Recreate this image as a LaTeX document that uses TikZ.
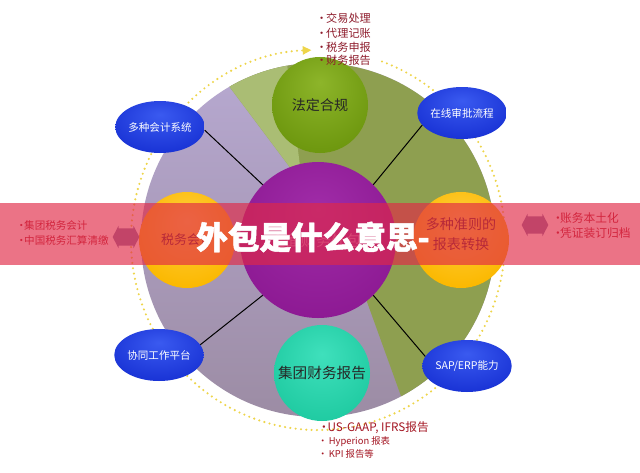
\documentclass[tikz,border=0pt]{standalone}
\usepackage{fontspec}
\setmainfont{Noto Sans CJK SC}
\usetikzlibrary{shapes.geometric,shapes.arrows,arrows.meta}
\definecolor{lavtop}{HTML}{B7A9D1}
\definecolor{lavbot}{HTML}{9C8CA4}
\definecolor{olivegr}{HTML}{8E9F50}
\definecolor{lightgr}{HTML}{AABD74}
\definecolor{dotyel}{HTML}{EED54A}
\definecolor{gl}{HTML}{8DB52A}\definecolor{gm}{HTML}{6E980F}\definecolor{gd}{HTML}{4E7205}
\definecolor{tl}{HTML}{3FE0BC}\definecolor{tm}{HTML}{20CBA2}\definecolor{td}{HTML}{14A888}
\definecolor{ol}{HTML}{FFD040}\definecolor{om}{HTML}{FBB800}\definecolor{od}{HTML}{E89A00}
\definecolor{pl}{HTML}{A02CA8}\definecolor{pm}{HTML}{8A1790}\definecolor{pd}{HTML}{650A6A}
\definecolor{bl}{HTML}{3A5AF0}\definecolor{bm}{HTML}{1A34D6}\definecolor{bd}{HTML}{0C1FA8}
\definecolor{listred}{HTML}{8E1C2C}
\definecolor{sidered}{HTML}{B8202E}
\definecolor{bannercol}{RGB}{225,40,70}
\definecolor{arrowcol}{HTML}{8A7AA8}
\definecolor{balltext}{HTML}{6B2A20}
\pgfdeclareradialshading{greenball}{\pgfpoint{0bp}{12bp}}{color(0bp)=(gl); color(30bp)=(gm); color(60bp)=(gd)}
\pgfdeclareradialshading{tealball}{\pgfpoint{0bp}{10bp}}{color(0bp)=(tl); color(30bp)=(tm); color(60bp)=(td)}
\pgfdeclareradialshading{orangeball}{\pgfpoint{0bp}{10bp}}{color(0bp)=(ol); color(30bp)=(om); color(60bp)=(od)}
\pgfdeclareradialshading{purpleball}{\pgfpoint{0bp}{10bp}}{color(0bp)=(pl); color(35bp)=(pm); color(60bp)=(pd)}
\pgfdeclareradialshading{blueball}{\pgfpoint{0bp}{12bp}}{color(0bp)=(bl); color(30bp)=(bm); color(60bp)=(bd)}
\begin{document}
\begin{tikzpicture}[x=0.03cm,y=-0.03cm,
  orb/.style={circle, minimum size=2.88cm, inner sep=0, shade},
  oval/.style={ellipse, minimum width=2.52cm, minimum height=1.56cm, inner sep=0, shade, shading=blueball, text=white, font=\fontsize{9}{10}\selectfont},
  lstitem/.style={anchor=west, inner sep=0},
  connector/.style={draw=black, line width=0.03cm},
  dblarrow/.style={double arrow, fill=arrowcol, inner xsep=0, inner ysep=0.25cm, minimum height=0.8cm, double arrow head extend=0.08cm, double arrow tip angle=125}
]
\useasboundingbox (0,0) rectangle (640,472);
\fill[white] (0,0) rectangle (640,472);

% dotted ring
\draw[dotyel, line width=0.07cm, line cap=round, dash pattern=on 0pt off 0.16cm, -{Triangle[length=0.26cm,width=0.24cm]}]
  (318,240) ++(-70:187 and 190) arc[start angle=-70, end angle=268, x radius=187, y radius=190];

% big disc
\shade[top color=lavtop, bottom color=lavbot] (318,240) circle[radius=177];
\fill[olivegr] (292,170) -- ([shift={(318,240)}]-120:177) arc[start angle=-120, end angle=62, radius=177] -- (362,288) -- (318,240) -- cycle;
\fill[lightgr] (292,170) -- ([shift={(318,240)}]-120:177) arc[start angle=-120, end angle=-100, radius=177] -- (300,166) -- cycle;

% nodes
\node[orb, minimum size=4.68cm, shading=purpleball] (core) at (318,240) {};
\node[text=pl!60!white, font=\fontsize{13}{15}\selectfont] (coretext) at (316,241) {全面财务外包};
\node[orb, shading=greenball, text=black!85, font=\fontsize{12}{14}\selectfont] (law) at (320,105) {法定合规};
\node[orb, shading=tealball, text=black!85, font=\fontsize{12.5}{14}\selectfont] (report) at (322,373) {集团财务报告};
\node[orb, shading=orangeball, text=balltext, font=\fontsize{11}{13}\selectfont] (tax) at (187,240) {税务会计};
\node[orb, shading=orangeball, text=balltext, align=center, font=\fontsize{12}{17}\selectfont] (conv) at (461,240) {};
\node[text=balltext, align=center, font=\fontsize{12}{17}\selectfont] (convtext) at (461,234) {多种准则的\\报表转换};

\node[oval] (e1) at (160,127) {多种会计系统};
\node[oval] (e2) at (462,113) {在线审批流程};
\node[oval] (e3) at (159,355) {协同工作平台};
\node[oval] (e4) at (467,366) {SAP/ERP能力};

\draw[connector] (core.135) -- (e1.-4);
\draw[connector] (core.45) -- (e2.197);
\draw[connector] (core.-135) -- (e3.14);
\draw[connector] (core.-45) -- (e4.167);

% lists
\begin{scope}[every node/.style={lstitem, text=listred, font=\fontsize{9.5}{11}\selectfont}]
\node (t1) at (316,18) {\makebox[0.3cm][l]{•}交易处理};
\node (t2) at (316,33) {\makebox[0.3cm][l]{•}代理记账};
\node (t3) at (316,47) {\makebox[0.3cm][l]{•}税务申报};
\node (t4) at (316,60) {\makebox[0.3cm][l]{•}财务报告};
\end{scope}
\begin{scope}[every node/.style={lstitem, text=listred!80!red}]
\node[font=\fontsize{10}{12}\selectfont] (b1) at (318,428) {\makebox[0.28cm][l]{•}US-GAAP, IFRS报告};
\node[font=\fontsize{8}{10}\selectfont] (b2) at (318,442) {\makebox[0.32cm][l]{•}Hyperion 报表};
\node[font=\fontsize{8}{10}\selectfont] (b3) at (318,454) {\makebox[0.32cm][l]{•}KPI 报告等};
\end{scope}
\begin{scope}[every node/.style={lstitem, text=sidered, font=\fontsize{9}{11}\selectfont}]
\node (l1) at (16,225) {\makebox[0.24cm][l]{•}集团税务会计};
\node (l2) at (16,240) {\makebox[0.24cm][l]{•}中国税务汇算清缴};
\node[font=\fontsize{10}{12}\selectfont] (r1) at (552,218) {\makebox[0.24cm][l]{•}账务本土化};
\node[font=\fontsize{10}{12}\selectfont] (r2) at (552,233) {\makebox[0.24cm][l]{•}凭证装订归档};
\end{scope}

\node[dblarrow] (la) at (126,237) {};
\node[dblarrow] (ra) at (535,225) {};

% watermark banner
\fill[bannercol, opacity=0.65] (0,203) rectangle (640,265);
\node[text=white, font=\fontsize{27}{30}\selectfont\bfseries\addfontfeatures{FakeBold=1.5}] (title) at (313,237) {外包是什么意思-};
\end{tikzpicture}
\end{document}
